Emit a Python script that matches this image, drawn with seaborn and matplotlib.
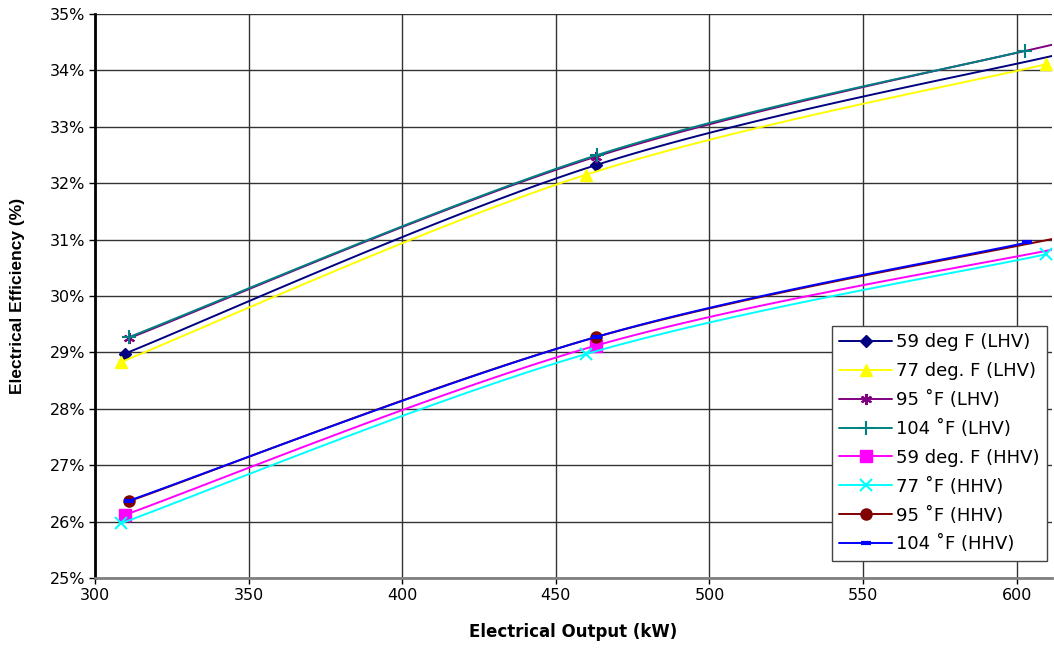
import numpy as np
import pandas as pd
import seaborn as sns
import matplotlib
matplotlib.use("Agg")
import matplotlib.pyplot as plt
from matplotlib.lines import Line2D
from matplotlib.ticker import FuncFormatter, MultipleLocator

# ---- data ----
labels = ["59 deg F (LHV)", "77 deg. F (LHV)", "95 ˚F (LHV)", "104 ˚F (LHV)",
          "59 deg. F (HHV)", "77 ˚F (HHV)", "95 ˚F (HHV)", "104 ˚F (HHV)"]
out_59_lhv = [309.8, 463.0, 615.0]
eff_59_lhv = [28.98, 32.32, 34.30]
out_77_lhv = [308.5, 459.8, 609.6]
eff_77_lhv = [28.83, 32.15, 34.11]
out_95_lhv = [311.0, 463.0, 615.0]
eff_95_lhv = [29.25, 32.47, 34.50]
out_104_lhv = [311.0, 463.5, 602.8]
eff_104_lhv = [29.27, 32.50, 34.35]
out_59_hhv = [309.8, 463.0, 615.0]
eff_59_hhv = [26.12, 29.12, 30.86]
out_77_hhv = [308.5, 459.8, 609.6]
eff_77_hhv = [25.97, 28.97, 30.74]
out_95_hhv = [311.0, 463.0, 615.0]
eff_95_hhv = [26.36, 29.27, 31.05]
out_104_hhv = [311.0, 463.5, 603.5]
eff_104_hhv = [26.37, 29.28, 30.95]

xs = [out_59_lhv, out_77_lhv, out_95_lhv, out_104_lhv,
      out_59_hhv, out_77_hhv, out_95_hhv, out_104_hhv]
ys = [eff_59_lhv, eff_77_lhv, eff_95_lhv, eff_104_lhv,
      eff_59_hhv, eff_77_hhv, eff_95_hhv, eff_104_hhv]

colors = ["#000080", "#FFFF00", "#800080", "#008080",
          "#FF00FF", "#00FFFF", "#800000", "#0000FF"]
markers = ["D", "^", (6, 2, 0), "+", "s", "x", "o", "_"]
msizes = [6, 8, 8, 10, 8, 9, 8, 7]
mews = [1, 1, 1.5, 1.5, 1, 1.5, 1, 3]


def smooth(x, y, n=40):
    """Excel-style smoothed line (Bezier through the points) for drawing."""
    x = np.asarray(x, float); y = np.asarray(y, float)
    P = np.column_stack([x, y])
    pts = []
    m = len(P)
    for i in range(m - 1):
        p0 = P[i - 1] if i > 0 else P[i]
        p1 = P[i]; p2 = P[i + 1]
        p3 = P[i + 2] if i + 2 < m else P[i + 1]
        c1 = p1 + (p2 - p0) / 6.0
        c2 = p2 - (p3 - p1) / 6.0
        t = np.linspace(0, 1, n)[:, None]
        seg = ((1 - t) ** 3) * p1 + 3 * ((1 - t) ** 2) * t * c1 + 3 * (1 - t) * t ** 2 * c2 + t ** 3 * p2
        pts.append(seg if i == 0 else seg[1:])
    S = np.vstack(pts)
    return S[:, 0], S[:, 1]


sns.set_theme(style="white")
plt.rcParams["font.family"] = ["DejaVu Sans"]
plt.rcParams["text.color"] = "black"
plt.rcParams["axes.labelcolor"] = "black"

fig = plt.figure(figsize=(10.54, 6.5), dpi=100)
ax = fig.add_axes([95 / 1054, 1 - 578 / 650, (1052 - 95) / 1054, (578 - 14) / 650])

for i, lab in enumerate(labels):
    sx, sy = smooth(xs[i], ys[i])
    df = pd.DataFrame({"x": sx, "y": sy})
    sns.lineplot(data=df, x="x", y="y", sort=False, color=colors[i], lw=1.4,
                 ax=ax, legend=False, zorder=3 + i)
    ax.plot(xs[i], ys[i], linestyle="none", marker=markers[i], color=colors[i],
            markersize=msizes[i], markeredgewidth=mews[i], zorder=3 + i, clip_on=True)

ax.set_xlim(300, 611.5)
ax.set_ylim(25, 35)
ax.xaxis.set_major_locator(MultipleLocator(50))
ax.yaxis.set_major_locator(MultipleLocator(1))
ax.yaxis.set_major_formatter(FuncFormatter(lambda v, p: f"{v:.0f}%"))
ax.grid(True, color="#333333", lw=1.0)
ax.set_axisbelow(True)
for s in ["top", "right"]:
    ax.spines[s].set_visible(False)
ax.spines["left"].set_color("black"); ax.spines["left"].set_linewidth(2)
ax.spines["bottom"].set_color("#808080"); ax.spines["bottom"].set_linewidth(2)
ax.tick_params(axis="both", labelsize=11.5, colors="black", length=4,
               direction="out", bottom=True, left=True, width=1)
ax.tick_params(axis="y", pad=3)
ax.set_xlabel("Electrical Output (kW)", fontsize=12, fontweight="bold", labelpad=14,
              color="black")
ax.set_ylabel("Electrical Efficiency (%)", fontsize=12.5, fontweight="bold", labelpad=18,
              family=["Liberation Sans", "DejaVu Sans"], color="black")

handles = [Line2D([0], [0], color=colors[i], lw=1.4, marker=markers[i],
                  markersize=msizes[i], markeredgewidth=mews[i]) for i in range(8)]
leg = fig.legend(handles, labels, loc="upper right",
                 bbox_to_anchor=(1047 / 1054, 1 - 326 / 650),
                 fontsize=13, frameon=True, fancybox=False, framealpha=1,
                 edgecolor="#444444", handlelength=2.9, handletextpad=0.25,
                 labelspacing=0.6, borderpad=0.4, borderaxespad=0)
leg.get_frame().set_linewidth(1)
for t in leg.get_texts():
    t.set_color("black")

fig.savefig("out.png", dpi=100)
